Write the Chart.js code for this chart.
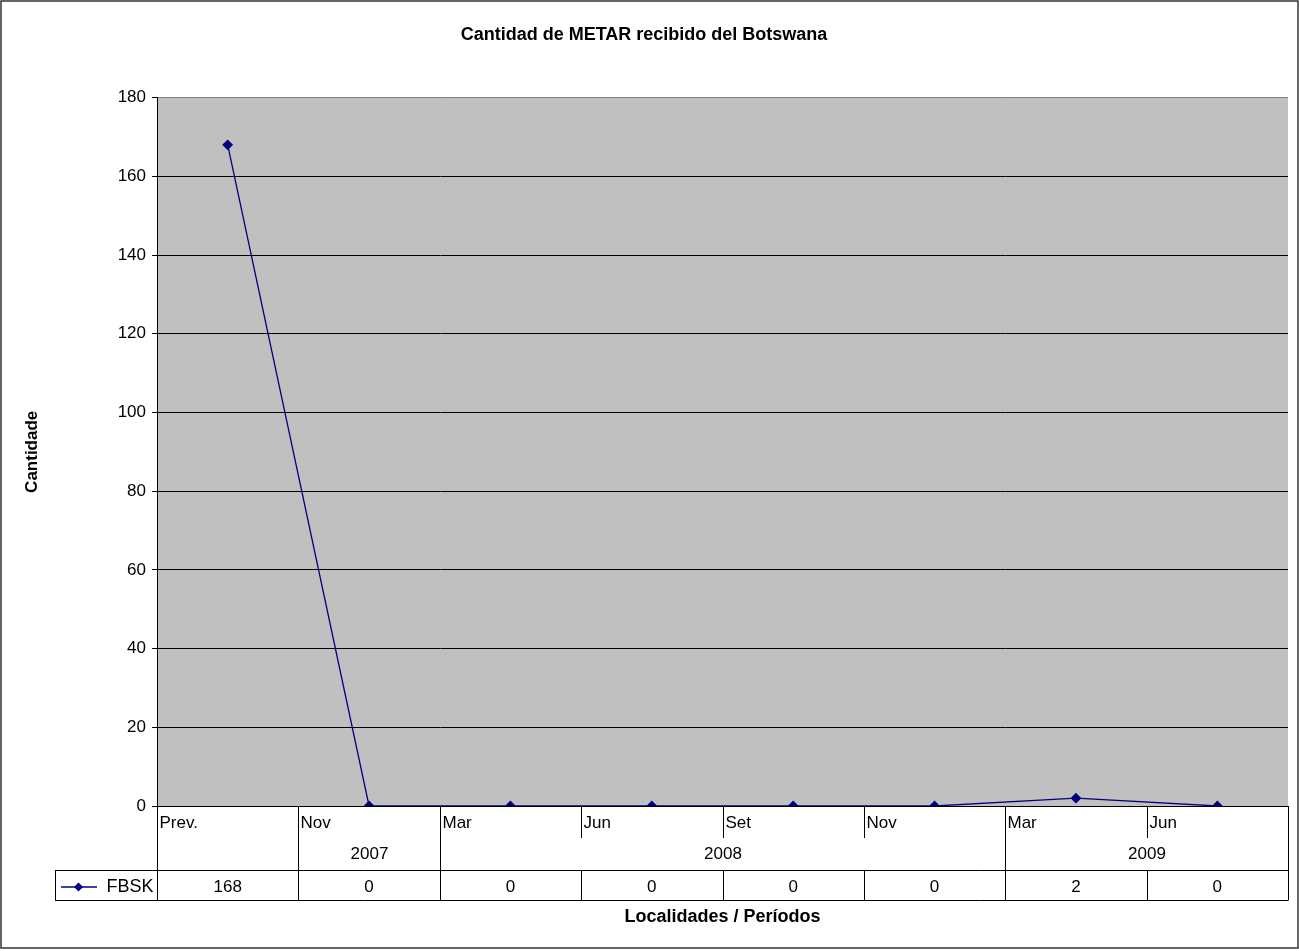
<!DOCTYPE html>
<html>
<head>
<meta charset="utf-8">
<script src="https://cdn.jsdelivr.net/npm/chart.js@4/dist/chart.umd.min.js"></script>
<style>
  html, body { margin: 0; padding: 0; background: #fff; }
  #wrap { width: 1299px; height: 951px; }
</style>
</head>
<body>
<div id="wrap"><canvas id="chart1" width="1299" height="951"></canvas></div>
<script>
const months = ['Prev.', 'Nov', 'Mar', 'Jun', 'Set', 'Nov', 'Mar', 'Jun'];
const yearLabels = ['', '2007', '2008', '2009'];
const yearSpans = [1, 1, 4, 2];
const fbsk = [168, 0, 0, 0, 0, 0, 2, 0];
const seriesName = 'FBSK';

const FONT = '"Liberation Sans", Arial, sans-serif';
const navy = '#000080';

// gray plot background, outer frame
const backgroundPlugin = {
  id: 'plotBg',
  beforeDraw(chart) {
    const { ctx, chartArea: a } = chart;
    ctx.save();
    ctx.fillStyle = '#fff';
    ctx.fillRect(0, 0, chart.width, chart.height);
    ctx.fillStyle = '#c0c0c0';
    ctx.fillRect(a.left, a.top, a.right - a.left, a.bottom - a.top);
    ctx.restore();
  },
  afterDraw(chart) {
    const { ctx } = chart;
    ctx.save();
    ctx.strokeStyle = '#333';
    ctx.lineWidth = 1.5;
    ctx.strokeRect(1, 1, chart.width - 2, chart.height - 4);
    ctx.restore();
  }
};

// data table under the plot
const tablePlugin = {
  id: 'dataTable',
  afterDraw(chart) {
    const { ctx, chartArea: a } = chart;
    const x = chart.scales.x;
    const step = (x.getPixelForValue(1) - x.getPixelForValue(0));
    const edge = i => Math.round(x.getPixelForValue(i) - step / 2) + 0.5;
    const r0 = a.bottom, r1 = r0 + 32, r2 = r1 + 32, r3 = r2 + 30;
    const legLeft = 55.5;

    ctx.save();
    ctx.strokeStyle = '#000';
    ctx.lineWidth = 1;
    ctx.beginPath();
    // month separators (first row)
    for (let i = 0; i <= months.length; i++) {
      ctx.moveTo(edge(i), r0);
      ctx.lineTo(edge(i), r1);
    }
    // year group separators (second row) and value row separators
    let idx = 0;
    const groupEdges = [0];
    yearSpans.forEach(s => { idx += s; groupEdges.push(idx); });
    groupEdges.forEach(g => {
      ctx.moveTo(edge(g), r1);
      ctx.lineTo(edge(g), r2);
    });
    for (let i = 0; i <= months.length; i++) {
      ctx.moveTo(edge(i), r2);
      ctx.lineTo(edge(i), r3);
    }
    ctx.moveTo(legLeft, r2 + 0.5);
    ctx.lineTo(edge(months.length), r2 + 0.5);
    ctx.moveTo(legLeft, r3 + 0.5);
    ctx.lineTo(edge(months.length), r3 + 0.5);
    ctx.moveTo(legLeft, r2);
    ctx.lineTo(legLeft, r3 + 1);
    ctx.stroke();

    ctx.fillStyle = '#000';
    ctx.font = '17px ' + FONT;
    ctx.textBaseline = 'middle';
    // month labels
    ctx.textAlign = 'left';
    months.forEach((m, i) => ctx.fillText(m, edge(i) + 2, r0 + 17));
    // year labels
    ctx.textAlign = 'center';
    let start = 0;
    yearLabels.forEach((y, k) => {
      const end = start + yearSpans[k];
      ctx.fillText(y, (edge(start) + edge(end)) / 2, r1 + 16);
      start = end;
    });
    // values
    fbsk.forEach((v, i) => ctx.fillText(String(v), x.getPixelForValue(i), r2 + 17));
    // legend key
    ctx.strokeStyle = navy;
    ctx.lineWidth = 1.3;
    ctx.beginPath();
    ctx.moveTo(61, r2 + 17);
    ctx.lineTo(97, r2 + 17);
    ctx.stroke();
    ctx.fillStyle = navy;
    ctx.beginPath();
    ctx.moveTo(78.5, r2 + 12.5);
    ctx.lineTo(83, r2 + 17);
    ctx.lineTo(78.5, r2 + 21.5);
    ctx.lineTo(74, r2 + 17);
    ctx.closePath();
    ctx.fill();
    ctx.fillStyle = '#000';
    ctx.textAlign = 'right';
    ctx.font = '18px ' + FONT;
    ctx.fillText(seriesName, edge(0) - 4, r2 + 17);

    // x axis title
    ctx.font = 'bold 18px ' + FONT;
    ctx.textAlign = 'center';
    ctx.fillText('Localidades / Períodos', (a.left + a.right) / 2, r3 + 17);
    ctx.restore();
  }
};

const data1 = {
  labels: months,
  datasets: [
    {
      label: seriesName,
      data: fbsk,
      borderColor: navy,
      backgroundColor: navy,
      borderWidth: 1.3,
      pointStyle: 'rectRot',
      pointRadius: 4.5,
      pointHoverRadius: 4.5,
      tension: 0,
      fill: false
    }
  ]
};

const config1 = {
  type: 'line',
  data: data1,
  options: {
    responsive: false,
    animation: false,
    layout: { padding: { left: 0, right: 11, top: 0, bottom: 0 } },
    plugins: {
      legend: { display: false },
      tooltip: { enabled: false },
      title: {
        display: true,
        text: 'Cantidad de METAR recibido del Botswana',
        color: '#000',
        font: { family: FONT, size: 18, weight: 'bold', lineHeight: 1.2 },
        padding: { top: 24, bottom: 52 }
      }
    },
    scales: {
      x: {
        type: 'category',
        offset: true,
        grid: { display: false, drawTicks: false },
        border: { display: false },
        ticks: { display: false },
        afterFit(scale) { scale.height = 145; }
      },
      y: {
        min: 0,
        max: 180,
        ticks: {
          stepSize: 20,
          color: '#000',
          padding: 6,
          font: { family: FONT, size: 17 }
        },
        grid: {
          color: c => (c.tick && c.tick.value === 180 ? '#808080' : '#000'),
          lineWidth: 1,
          tickLength: 5,
          tickColor: '#000'
        },
        border: { color: '#000', width: 1 },
        title: {
          display: true,
          text: 'Cantidade',
          color: '#000',
          font: { family: FONT, size: 17, weight: 'bold' },
          padding: { top: 22, bottom: 0 }
        },
        afterFit(scale) { scale.width = 157; }
      }
    }
  },
  plugins: [backgroundPlugin, tablePlugin]
};

const myChart1 = new Chart(document.getElementById('chart1').getContext('2d'), config1);
</script>
</body>
</html>
